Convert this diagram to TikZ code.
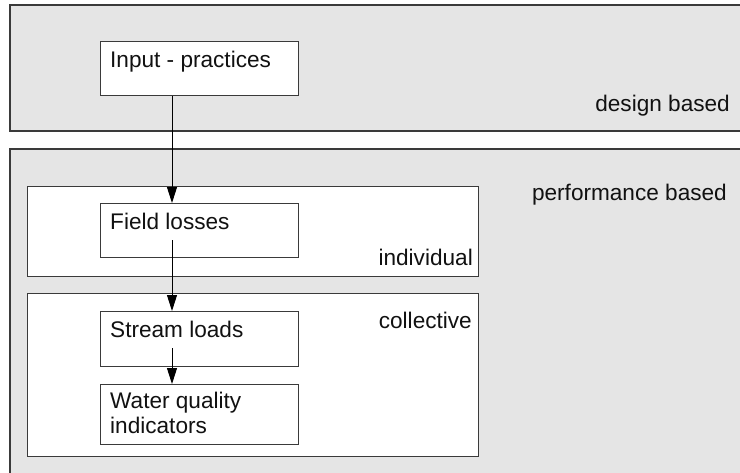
\documentclass[tikz,border=0pt]{standalone}
\usepackage{fontspec}
\setmainfont{Liberation Sans}
\usetikzlibrary{arrows.meta}
\definecolor{panelgray}{HTML}{E5E5E5}
\definecolor{edge}{HTML}{3A3A3A}
\definecolor{ink}{HTML}{111111}
\tikzset{
  panel/.style={fill=panelgray, draw=edge, line width=1.3pt},
  group/.style={fill=white, draw=edge, line width=1.3pt, anchor=north west, inner sep=0pt},
  stepbox/.style={fill=white, draw=edge, line width=1.1pt, anchor=north west, inner sep=0pt,
                  minimum width=198pt},
  lbl/.style={text=ink, inner sep=0pt, font=\fontsize{22.6}{25}\selectfont},
  flow/.style={draw=black, line width=0.9pt, -{Triangle[length=16pt,width=10pt]}}
}
\begin{document}
\begin{tikzpicture}[x=1pt,y=-1pt]
  \useasboundingbox (0,0) rectangle (740,472);
  \fill[white] (0,0) rectangle (740,472);

  % two background bands, running past the right and bottom edges
  \begin{scope}
    \clip (0,0) rectangle (740,472);
    \draw[panel] (10,5) rectangle (760,131);
    \draw[panel] (10,149) rectangle (760,490);
  \end{scope}
  \node[lbl, anchor=base east] (design) at (730,111) {design based};
  \node[lbl, anchor=base east] (perf) at (727,200) {performance based};

  % individual and collective groups
  \node[group, minimum width=451pt, minimum height=90pt] (indiv) at (27,186) {};
  \node[lbl, anchor=base east] (indivlbl) at (473,265) {individual};
  \node[group, minimum width=451pt, minimum height=163pt] (coll) at (27,293) {};
  \node[lbl, anchor=base east] (colllbl) at (472,328) {collective};

  % steps
  \node[stepbox, minimum height=54pt] (inp) at (100,41) {};
  \node[lbl, anchor=base west] (inpt) at (110,67) {Input - practices};
  \node[stepbox, minimum height=54pt] (fld) at (100,203) {};
  \node[lbl, anchor=base west] (fldt) at (110,229) {Field losses};
  \node[stepbox, minimum height=55pt] (str) at (100,311) {};
  \node[lbl, anchor=base west] (strt) at (110,337) {Stream loads};
  \node[stepbox, minimum height=60pt] (wq) at (100,384) {};
  \node[lbl, anchor=north west, align=left] (wqt) at (110,391.8) {Water quality\\indicators};

  % flow line
  \coordinate (axis) at (172,0);
  \coordinate (fldout) at (172,240);
  \coordinate (strout) at (172,348);
  \draw[flow] (inp.south -| axis) -- (fld.north -| axis);
  \draw[flow] (fldout) -- (str.north -| axis);
  \draw[flow] (strout) -- (wq.north -| axis);
\end{tikzpicture}
\end{document}
